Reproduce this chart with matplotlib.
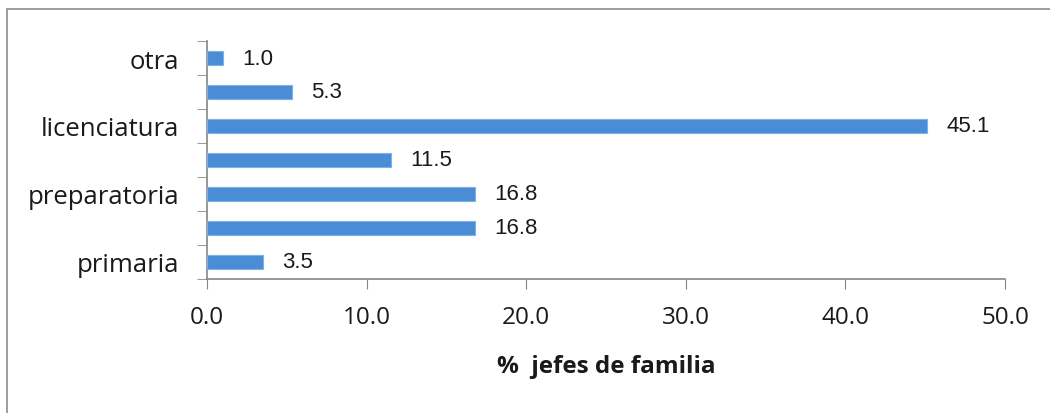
import matplotlib
matplotlib.use("Agg")
import matplotlib.pyplot as plt
from matplotlib.patches import Rectangle
import numpy as np

# datos (de abajo hacia arriba)
categorias = ['primaria', '', 'preparatoria', '', 'licenciatura', '', 'otra']
valores = [3.5, 16.8, 16.8, 11.5, 45.1, 5.3, 1.0]
xticks = [0, 10, 20, 30, 40, 50]

FUENTE_EJES = ['Open Sans', 'DejaVu Sans']
GRIS = '#868686'

fig = plt.figure(figsize=(10.5, 4.14), dpi=100)
ax = fig.add_axes([207/1050, 1 - 280/414, (1005 - 207)/1050, (280 - 42)/414])

# marco de la figura
fig.patches.append(Rectangle((7/1050, -0.1), 1.2, 1.1 - 10/414,
                             transform=fig.transFigure, fill=False,
                             edgecolor='#8c8c8c', linewidth=1.2))

y = np.arange(len(valores))
ax.barh(y, valores, height=0.42, color='#4a8dd6', edgecolor='#7fb0e6',
        linewidth=0.8, zorder=3)

for yi, v in zip(y, valores):
    ax.annotate(f'{v:.1f}', (v, yi), xytext=(14, 0), textcoords='offset points',
                va='center', ha='left', fontsize=16,
                family='Liberation Sans', color='#1a1a1a')

ax.set_xlim(0, 50)
ax.set_ylim(-0.5, len(valores) - 0.5)

ax.set_xticks(xticks)
ax.set_xticklabels([f'{t:.1f}' for t in xticks], family=FUENTE_EJES,
                   fontsize=17.5, color='#1a1a1a')
ax.tick_params(axis='x', direction='out', length=7, color=GRIS, pad=12)

ax.set_yticks(y)
ax.set_yticklabels(categorias, family=FUENTE_EJES, fontsize=18.5, color='#1a1a1a')
ax.set_yticks(np.arange(-0.5, len(valores)), minor=True)
ax.tick_params(axis='y', which='major', length=0, pad=20)
ax.tick_params(axis='y', which='minor', direction='out', length=7, color=GRIS)

for s in ['top', 'right']:
    ax.spines[s].set_visible(False)
for s in ['left', 'bottom']:
    ax.spines[s].set_color(GRIS)
    ax.spines[s].set_linewidth(1.2)

ax.set_xlabel('%  jefes de familia', family=FUENTE_EJES, fontsize=17.5,
              fontweight='bold', color='#1a1a1a', labelpad=18)

fig.savefig('out.png', dpi=100)
